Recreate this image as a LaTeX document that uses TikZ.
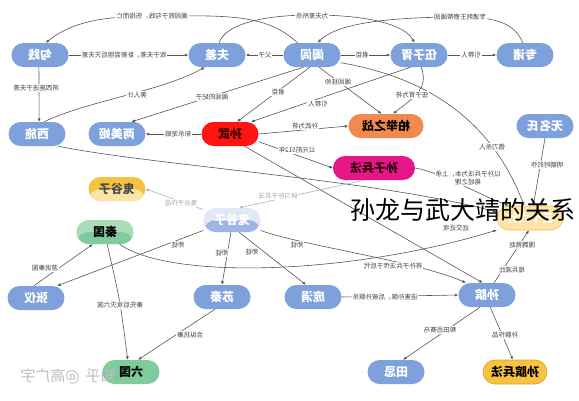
\documentclass[tikz,border=0pt]{standalone}
\usepackage{fontspec}
\setmainfont{Noto Sans CJK SC}
\usepackage{graphicx}
\usetikzlibrary{arrows.meta}
\definecolor{nb}{HTML}{7EA1DC}
\definecolor{nred}{HTML}{FF1414}
\definecolor{norange}{HTML}{F28A4E}
\definecolor{nmag}{HTML}{E5158A}
\definecolor{nyel}{HTML}{FCE3A6}
\definecolor{nyelb}{HTML}{F0C265}
\definecolor{ngold}{HTML}{F7C242}
\definecolor{ngoldb}{HTML}{D9A520}
\definecolor{ngreen}{HTML}{80CB9C}
\definecolor{ngreenl}{HTML}{A9DDBA}
\definecolor{nbl}{HTML}{E1E9F8}
\definecolor{nbd}{HTML}{9DB6E6}
\definecolor{lnc}{HTML}{555555}
\newcommand{\mr}[1]{\reflectbox{#1}}
\tikzset{
  n/.style={rounded corners=12pt, minimum width=57pt, minimum height=24pt, inner sep=0pt,
    font=\fontsize{12}{12}\selectfont\bfseries, text=white, fill=nb},
  lbl/.style={fill=white, inner sep=0.8pt, font=\fontsize{6.5}{7.5}\selectfont, text=black!75, align=center},
  lbll/.style={lbl, text=black!35},
  ln/.style={draw=lnc, line width=0.6pt, -{Latex[length=3.5pt,width=3pt]}},
  lnl/.style={ln, draw=black!30},
}
\begin{document}
\begin{tikzpicture}[x=1pt,y=-1pt]
\useasboundingbox (0,0) rectangle (579,400);
\fill[white] (0,0) rectangle (579,400);
% nodes
\node[n] (gj) at (40,55) {\mr{勾践}};
\node[n] (fc) at (217,55) {\mr{夫差}};
\node[n] (hl) at (312,55) {\mr{阖闾}};
\node[n] (wzx) at (419,55) {\mr{伍子胥}};
\node[n] (zz) at (525,55) {\mr{专诸}};
\node[n] (xs) at (37,134) {\mr{西施}};
\node[n] (lmj) at (117,134) {\mr{两美姬}};
\node[n, fill=nred, text=black!80!red] (sw) at (230,134) {\mr{孙武}};
\node[n, fill=norange, text=black, minimum width=75pt] (bj) at (386,126) {\mr{柏举之战}};
\node[n] (wms) at (545,126) {\mr{无名氏}};
\node[n, fill=nmag, text=black!85!red, minimum width=82pt] (szbf) at (374,168) {\mr{孙子兵法}};
\node[n, fill=nyel, draw=nyelb, line width=0.6pt, text=white, minimum width=66pt] (sslj) at (530,218) {\mr{三十六计}};
\node[n, fill=ngold, text=black!70, path picture={\fill[nyel] (path picture bounding box.west) rectangle (path picture bounding box.south east);}] (gg) at (117,189) {\mr{鬼谷子}};
\node[n, fill=nbl, path picture={\fill[nbd] (path picture bounding box.west) rectangle (path picture bounding box.south east);}] (ggz) at (232,220) {\mr{鬼谷子}};
\node[n, fill=ngreenl, text=black, path picture={\fill[ngreen] (path picture bounding box.west) rectangle (path picture bounding box.south east);}] (qg) at (105,232) {\mr{秦国}};
\node[n] (zy) at (36,298) {\mr{张仪}};
\node[n] (sq) at (222,297) {\mr{苏秦}};
\node[n] (pj) at (313,297) {\mr{庞涓}};
\node[n] (sb) at (487,295) {\mr{孙膑}};
\node[n, fill=ngreen, text=black] (lg) at (131,372) {\mr{六国}};
\node[n] (tj) at (396,372) {\mr{田忌}};
\node[n, fill=ngold, draw=ngoldb, line width=0.6pt, text=black, minimum width=64pt] (sbbf) at (515,372) {\mr{孙膑兵法}};
% connectors
\draw[ln] (hl.140) .. controls (265,12) and (220,16) .. (152,16) .. controls (95,16) and (68,25) .. (gj.65);
\draw[ln] (fc.80) .. controls (225,25) and (260,15) .. (312,15) .. controls (370,15) and (405,25) .. (wzx.110);
\draw[ln] (zz.100) .. controls (515,25) and (500,17) .. (460,17) .. controls (380,17) and (335,25) .. (hl.65);
\draw[ln] (gj.east) -- (fc.west);
\draw[ln] (hl.west) -- (fc.east);
\draw[ln] (hl.east) -- (wzx.west);
\draw[ln] (wzx.east) -- (zz.west);
\draw[ln] (gj.265) -- (xs.80);
\draw[ln] (xs.60) .. controls (90,100) and (160,92) .. (fc.225);
\draw[ln] (sw.west) -- (lmj.east);
\draw[ln] (hl.235) -- (lmj.40);
\draw[ln] (hl.260) -- (sw.60);
\draw[ln] (wzx.235) -- (sw.30);
\draw[ln] (hl.300) -- (bj.110);
\draw[ln] (wzx.280) .. controls (430,90) and (410,100) .. (bj.60);
\draw[ln] (sw.east) -- (bj.west);
\draw[ln] (sw.-15) -- (szbf.west);
\draw[ln] (xs.-30) .. controls (150,165) and (380,180) .. (sslj.170);
\draw[ln] (wms.south) -- (sslj.75);
\draw[ln] (hl.-15) .. controls (440,80) and (495,130) .. (sslj.115);
\draw[ln] (szbf.east) .. controls (440,172) and (480,195) .. (sslj.150);
\draw[ln] (qg.-40) .. controls (170,280) and (350,275) .. (sslj.200);
\draw[ln] (sb.60) -- (sslj.265);
\draw[ln] (sw.-40) -- (sb.110);
\draw[ln] (ggz.-20) .. controls (300,245) and (420,262) .. (sb.150);
\draw[ln] (ggz.200) -- (zy.30);
\draw[ln] (ggz.265) -- (sq.north);
\draw[ln] (ggz.-60) -- (pj.120);
\draw[ln] (zy.100) -- (qg.225);
\draw[ln] (qg.-80) .. controls (120,300) .. (lg.105);
\draw[ln] (sq.240) -- (lg.60);
\draw[ln] (pj.east) -- (sb.west);
\draw[ln] (sb.240) -- (tj.60);
\draw[ln] (sb.-75) -- (sbbf.100);
\draw[lnl] (szbf.230) -- (ggz.60);
\draw[lnl] (ggz.160) -- (gg.east);
% labels
\node[lbl] (t1) at (152,16) {\mr{阖闾败于勾践，伤指而亡}};
\node[lbl] (t2) at (312,16) {\mr{为夫差所杀}};
\node[lbl] (t3) at (460,17) {\mr{专诸刺王僚帮阖闾}};
\node[lbl] (t4) at (124,55) {\mr{败于夫差，卧薪尝胆后灭夫差}};
\node[lbl] (t5) at (265,55) {\mr{父子}};
\node[lbl] (t6) at (362,55) {\mr{君臣}};
\node[lbl] (t7) at (471,55) {\mr{引荐人}};
\node[lbl] (t8) at (36,88) {\mr{将西施送于夫差}};
\node[lbl] (t9) at (137,95) {\mr{美人计}};
\node[lbl] (t10) at (178,134) {\mr{斩杀宠姬}};
\node[lbl] (t11) at (212,97) {\mr{阖闾的妃子}};
\node[lbl] (t12) at (278,92) {\mr{君臣}};
\node[lbl] (t13) at (318,104) {\mr{引荐人}};
\node[lbl] (t14) at (338,82) {\mr{阖闾挂帅}};
\node[lbl] (t15) at (412,95) {\mr{伍子胥为将}};
\node[lbl] (t16) at (305,126) {\mr{孙武为将}};
\node[lbl] (t17) at (297,150) {\mr{公元前512年}};
\node[lbl] (t18) at (547,165) {\mr{明朝时的作}};
\node[lbl] (t19) at (492,147) {\mr{借刀杀人}};
\node[lbl] (t20) at (468,178) {\mr{以孙子兵法为本，上承}\\\mr{易经之理}};
\node[lbl] (t21) at (456,228) {\mr{远交近攻}};
\node[lbl] (t22) at (522,245) {\mr{围魏救赵}};
\node[lbl] (t23) at (512,270) {\mr{增兵减灶}};
\node[lbl] (t24) at (297,245) {\mr{师徒}};
\node[lbl] (t25) at (393,266) {\mr{将孙子兵法传于后代}};
\node[lbl] (t26) at (178,245) {\mr{师徒}};
\node[lbl] (t27) at (222,253) {\mr{师徒}};
\node[lbl] (t28) at (252,252) {\mr{师徒}};
\node[lbl] (t29) at (45,268) {\mr{游说秦国}};
\node[lbl] (t30) at (120,305) {\mr{秦先后攻灭六国}};
\node[lbl] (t31) at (190,335) {\mr{合纵抗秦}};
\node[lbl] (t32) at (385,297) {\mr{迫害孙膑，后被孙膑杀}};
\node[lbl] (t33) at (440,330) {\mr{帮田忌赛马}};
\node[lbl] (t34) at (505,335) {\mr{孙膑作品}};
\node[lbll] (t35) at (278,196) {\mr{研习孙子兵法}};
\node[lbll] (t36) at (181,203) {\mr{鬼谷子作品}};
% overlay texts
\node[font=\fontsize{15}{15}\selectfont, text=black!25, inner sep=0pt] (wm) at (68,376) {\mr{知乎\hspace{6pt}@高广宇}};
\node[font=\fontsize{25}{25}\selectfont, text=black, inner sep=0pt] (title) at (463,210) {孙龙与武大靖的关系};
\end{tikzpicture}
\end{document}
